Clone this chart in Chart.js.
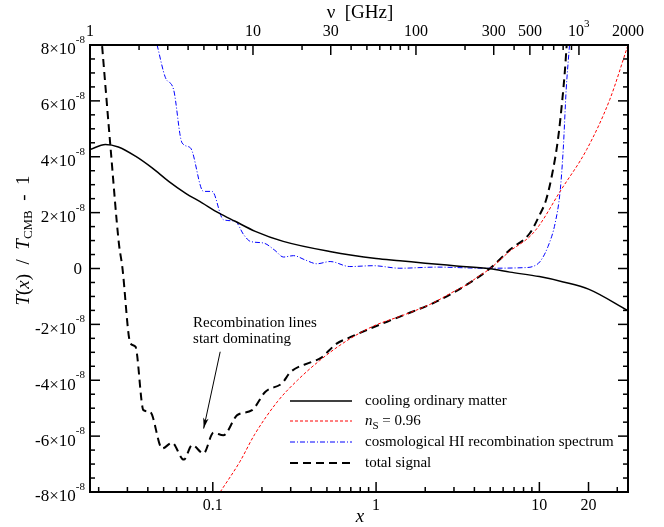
<!DOCTYPE html>
<html>
<head>
<meta charset="utf-8">
<script src="https://cdn.jsdelivr.net/npm/chart.js@4.4.0/dist/chart.umd.min.js"></script>
<style>
  html, body { margin: 0; padding: 0; background: #fff; }
  #wrap { width: 664px; height: 527px; }
</style>
</head>
<body>
<div id="wrap"><canvas id="chart"></canvas></div>
<script>
// all y values in units of 1e-8
const xCool = [0.0177, 0.022, 0.0264, 0.0336, 0.0425, 0.0537, 0.0679, 0.0859, 0.1086, 0.137, 0.182, 0.27, 0.52, 1.0, 1.4, 2, 3, 5, 6.6, 10, 14, 20, 34.9];
const yCool = [4.26, 4.44, 4.35, 4.02, 3.60, 3.12, 2.70, 2.35, 1.99, 1.69, 1.33, 0.97, 0.61, 0.36, 0.28, 0.19, 0.10, -0.01, -0.13, -0.29, -0.48, -0.74, -1.51];

const xRed = [0.111, 0.147, 0.18, 0.25, 0.33, 0.45, 0.6, 0.8, 1.0, 1.5, 2.2, 3.0, 3.5, 4.2, 5.0, 6.6, 8.76, 10, 13.4, 19.5, 27, 34.9];
const yRed = [-8.0, -6.9, -5.95, -4.75, -4.0, -3.3, -2.75, -2.3, -2.02, -1.65, -1.25, -0.82, -0.62, -0.30, 0.0, 0.62, 1.15, 1.55, 2.76, 4.26, 6.05, 8.0];

const xBlue = [0.0456, 0.0513, 0.0575, 0.0648, 0.0729, 0.0877, 0.099, 0.116, 0.137, 0.155, 0.17, 0.205, 0.24, 0.271, 0.312, 0.37, 0.434, 0.523, 0.69, 0.96, 1.4, 2.35, 4.5, 8.0, 9.2, 10.1, 11.3, 12.5, 13.4, 14.0, 14.6, 15.3];
const yBlue = [8.0, 6.83, 6.41, 4.50, 4.32, 2.76, 2.76, 1.75, 1.69, 1.2, 0.97, 0.91, 0.65, 0.41, 0.46, 0.30, 0.17, 0.25, 0.07, 0.10, 0.01, 0.05, 0.01, 0.03, 0.08, 0.25, 0.79, 1.63, 2.76, 4.26, 6.41, 8.0];

const xTot = [0.021, 0.0237, 0.0266, 0.0279, 0.0313, 0.0336, 0.0376, 0.0413, 0.049, 0.0563, 0.0664, 0.0748, 0.0877, 0.101, 0.116, 0.141, 0.174, 0.21, 0.265, 0.30, 0.40, 0.46, 0.57, 0.7, 0.877, 1.4, 2.35, 3.59, 4.98, 6.6, 8.76, 10, 11, 12, 13, 13.8, 14.3, 14.7];
const yTot = [7.96, 4.26, 0.9, 0.07, -2.68, -2.80, -5.07, -5.13, -6.44, -6.24, -6.84, -6.32, -6.62, -5.88, -5.97, -5.25, -5.07, -4.41, -4.11, -3.7, -3.35, -3.2, -2.7, -2.45, -2.2, -1.72, -1.18, -0.58, 0.0, 0.67, 1.27, 1.9, 2.46, 3.4, 4.62, 6.0, 7.0, 8.0];

// tick labels
const xLabels = [0.1, 1, 10, 20];
const nuLabels = [1, 10, 30, 100, 300, 500, 1000, 2000];
const yLabels = [-8, -6, -4, -2, 0, 2, 4, 6, 8];

const legendNames = ["cooling ordinary matter", "n_S = 0.96", "cosmological HI recombination spectrum", "total signal"];

const SERIF = "'Liberation Serif', 'Times New Roman', serif";
const f = (s, style) => (style ? style + " " : "") + s + "px " + SERIF;

function pts(xs, ys) {
    return xs.map((x, i) => ({ x: x, y: ys[i] }));
}

function rich(ctx, segs, x, y) {
    let w = 0;
    segs.forEach(s => { ctx.font = s.font; w += ctx.measureText(s.t).width; });
    let cx = x - w / 2;
    segs.forEach(s => {
        ctx.font = s.font;
        ctx.fillText(s.t, cx, y + (s.dy || 0));
        cx += ctx.measureText(s.t).width;
    });
}

function seg(ctx, x1, y1, x2, y2) {
    ctx.beginPath();
    ctx.moveTo(x1, y1);
    ctx.lineTo(x2, y2);
    ctx.stroke();
}

const decor = {
    id: "decor",
    afterDraw(chart) {
        const ctx = chart.ctx, a = chart.chartArea;
        const sx = chart.scales.x, sn = chart.scales.x2, sy = chart.scales.y;
        ctx.save();
        ctx.strokeStyle = "#000";
        ctx.fillStyle = "#000";
        ctx.lineWidth = 1.5;

        // y ticks, left and right, inward
        for (let v = -8; v <= 8; v += 0.5) {
            const p = sy.getPixelForValue(v);
            const len = (v % 2 === 0) ? 10 : 5;
            seg(ctx, a.left, p, a.left + len, p);
            seg(ctx, a.right, p, a.right - len, p);
        }
        // bottom x ticks
        for (let d = 0.01; d < 100; d *= 10) {
            for (let k = 1; k < 10; k++) {
                const v = d * k;
                if (v < sx.min || v > sx.max) continue;
                const p = sx.getPixelForValue(v);
                const len = (k === 1 || Math.abs(v - 20) < 1e-9) ? 10 : 5;
                seg(ctx, p, a.bottom, p, a.bottom - len);
            }
        }
        // top nu ticks
        const nuMajor = [10, 30, 100, 300, 500, 1000];
        for (let d = 1; d < 10000; d *= 10) {
            for (let k = 1; k < 10; k++) {
                const v = d * k;
                if (v <= sn.min || v >= sn.max) continue;
                const p = sn.getPixelForValue(v);
                const len = nuMajor.includes(v) ? 10 : 5;
                seg(ctx, p, a.top, p, a.top + len);
            }
        }

        // frame
        ctx.lineWidth = 2;
        ctx.strokeRect(a.left, a.top, a.right - a.left, a.bottom - a.top);

        // y tick labels
        ctx.textBaseline = "middle";
        yLabels.forEach(v => {
            const p = sy.getPixelForValue(v);
            if (v === 0) {
                ctx.font = f(17);
                ctx.textAlign = "right";
                ctx.fillText("0", a.left - 8, p + 1);
                return;
            }
            ctx.font = f(11);
            const ws = ctx.measureText("-8").width;
            ctx.textAlign = "right";
            ctx.fillText("-8", a.left - 5, p - 5);
            ctx.font = f(17);
            ctx.fillText(v + "\u00d710", a.left - 5 - ws, p + 5);
        });

        // bottom labels
        ctx.textAlign = "center";
        ctx.font = f(16);
        xLabels.forEach(v => {
            ctx.fillText(String(v), sx.getPixelForValue(v), a.bottom + 14);
        });
        // top labels
        nuLabels.forEach(v => {
            const p = sn.getPixelForValue(v);
            if (v === 1000) {
                ctx.font = f(16);
                ctx.fillText("10", p - 3, a.top - 13);
                ctx.font = f(11);
                ctx.textAlign = "left";
                ctx.fillText("3", p + 5, a.top - 21);
                ctx.textAlign = "center";
            } else {
                ctx.font = f(16);
                ctx.fillText(String(v), p, a.top - 13);
            }
        });

        // axis titles
        ctx.textAlign = "left";
        rich(ctx, [{ t: "\u03bd  [GHz]", font: f(19) }], (a.left + a.right) / 2 + 1, 13);
        rich(ctx, [{ t: "x", font: f(19, "italic") }], (a.left + a.right) / 2 + 1, 517);

        ctx.save();
        ctx.translate(24, (a.top + a.bottom) / 2 - 28);
        ctx.rotate(-Math.PI / 2);
        rich(ctx, [
            { t: "T", font: f(19, "italic") },
            { t: "(", font: f(19) },
            { t: "x", font: f(19, "italic") },
            { t: ")  /  ", font: f(19) },
            { t: "T", font: f(19, "italic") },
            { t: "CMB", font: f(13), dy: 5 },
            { t: "  -  1", font: f(19) }
        ], 0, 0);
        ctx.restore();

        // annotation
        ctx.font = f(15);
        ctx.textAlign = "left";
        const tx = sx.getPixelForValue(0.0757);
        ctx.fillText("Recombination lines", tx, sy.getPixelForValue(-1.96));
        ctx.fillText("start dominating", tx, sy.getPixelForValue(-2.53));
        const ax1 = sx.getPixelForValue(0.111), ay1 = sy.getPixelForValue(-2.98);
        const ax2 = sx.getPixelForValue(0.0879), ay2 = sy.getPixelForValue(-5.73);
        ctx.lineWidth = 1;
        seg(ctx, ax1, ay1, ax2, ay2);
        const ang = Math.atan2(ay2 - ay1, ax2 - ax1);
        ctx.beginPath();
        ctx.moveTo(ax2, ay2);
        ctx.lineTo(ax2 - 11 * Math.cos(ang - 0.25), ay2 - 11 * Math.sin(ang - 0.25));
        ctx.lineTo(ax2 - 8 * Math.cos(ang), ay2 - 8 * Math.sin(ang));
        ctx.lineTo(ax2 - 11 * Math.cos(ang + 0.25), ay2 - 11 * Math.sin(ang + 0.25));
        ctx.closePath();
        ctx.fill();

        // legend
        const ds = chart.data.datasets;
        const lx = a.right - 338, tx2 = a.right - 263;
        const rows = [91, 71, 50, 29];
        ds.forEach((d, i) => {
            const yy = a.bottom - rows[i];
            ctx.strokeStyle = d.borderColor;
            ctx.lineWidth = d.borderWidth;
            ctx.setLineDash(d.borderDash || []);
            seg(ctx, lx, yy, lx + 62, yy);
            ctx.setLineDash([]);
            ctx.fillStyle = "#000";
            ctx.textAlign = "left";
            if (i === 1) {
                ctx.font = f(15, "italic");
                ctx.fillText("n", tx2, yy);
                const wn = ctx.measureText("n").width;
                ctx.font = f(11);
                ctx.fillText("S", tx2 + wn, yy + 5);
                const wsub = ctx.measureText("S").width;
                ctx.font = f(15);
                ctx.fillText(" = 0.96", tx2 + wn + wsub, yy);
            } else {
                ctx.font = f(15);
                ctx.fillText(legendNames[i], tx2, yy);
            }
        });
        ctx.restore();
    }
};

const line = {
    showLine: true,
    pointRadius: 0,
    fill: false,
    cubicInterpolationMode: "monotone"
};

const hidden = {
    ticks: { display: false },
    grid: { display: false, drawTicks: false },
    border: { display: false }
};

new Chart(document.getElementById("chart"), {
    type: "scatter",
    data: {
        datasets: [
            Object.assign({ label: legendNames[0], data: pts(xCool, yCool), borderColor: "#000000", borderWidth: 1.5 }, line),
            Object.assign({ label: legendNames[1], data: pts(xRed, yRed), borderColor: "#ff0000", borderWidth: 1, borderDash: [3, 2] }, line),
            Object.assign({ label: legendNames[2], data: pts(xBlue, yBlue), borderColor: "#0000ff", borderWidth: 1, borderDash: [5, 2, 1, 2] }, line),
            Object.assign({ label: legendNames[3], data: pts(xTot, yTot), borderColor: "#000000", borderWidth: 2, borderDash: [8, 5] }, line)
        ]
    },
    options: {
        responsive: true,
        maintainAspectRatio: false,
        animation: false,
        layout: { padding: { left: 0, right: 36, top: 0, bottom: 0 } },
        plugins: {
            legend: { display: false },
            tooltip: { enabled: false }
        },
        scales: {
            x: Object.assign({ type: "logarithmic", position: "bottom", min: 0.0177, max: 34.9,
                afterFit(s) { s.height = 35; } }, hidden),
            x2: Object.assign({ type: "logarithmic", position: "top", min: 1, max: 2000,
                afterFit(s) { s.height = 45; } }, hidden),
            y: Object.assign({ type: "linear", position: "left", min: -8, max: 8,
                afterFit(s) { s.width = 90; } }, hidden)
        }
    },
    plugins: [decor]
});
</script>
</body>
</html>
